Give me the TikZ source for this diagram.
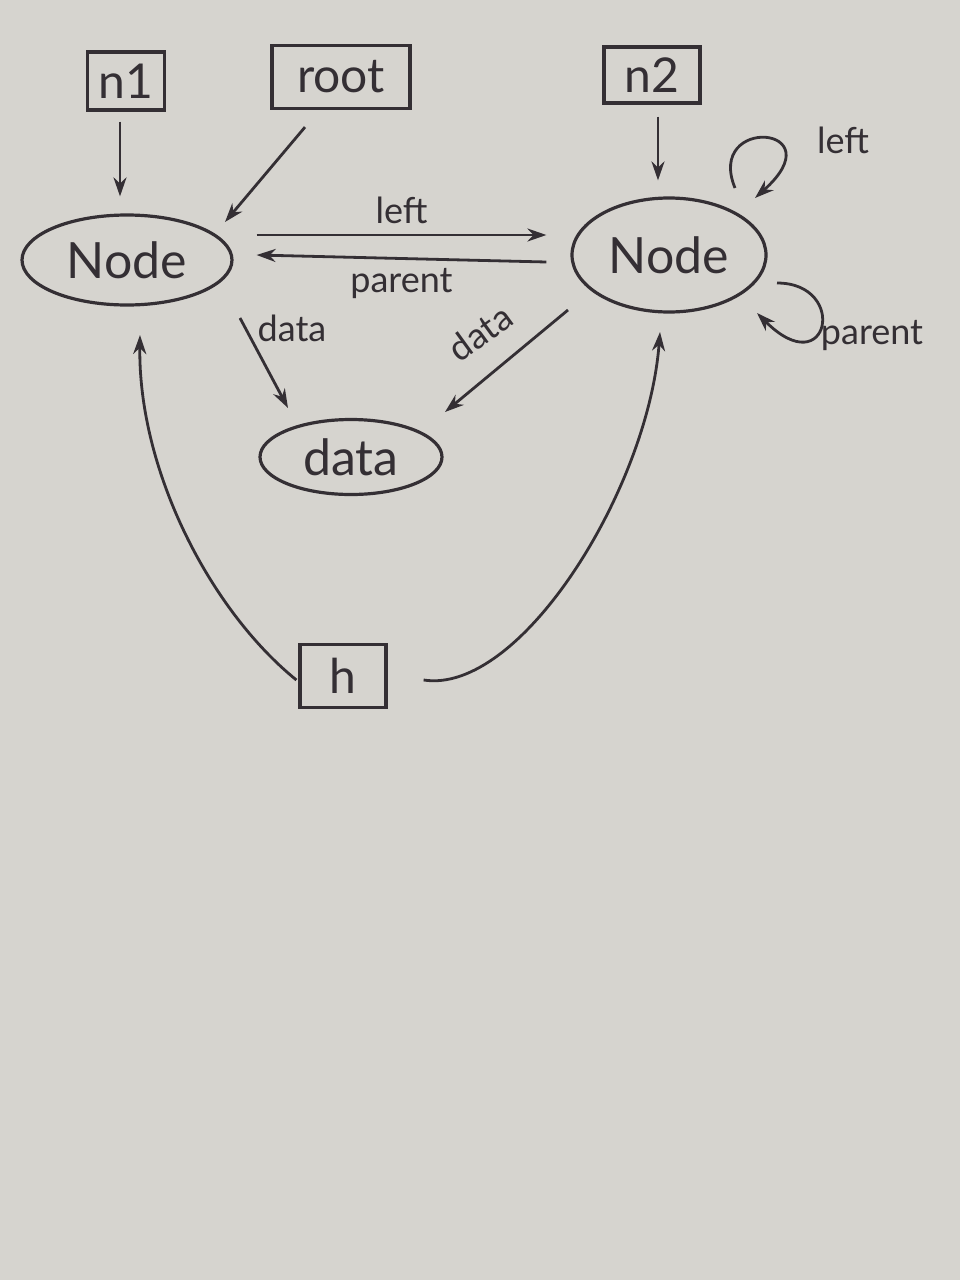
\documentclass[tikz,border=0pt]{standalone}
\usepackage{fontspec}
\setmainfont{Lato}
\usetikzlibrary{arrows.meta,calc,shapes.geometric}
\definecolor{paper}{RGB}{214,212,207}
\definecolor{ink}{RGB}{52,47,52}
\tikzset{
  every node/.style={text=ink},
  boxnode/.style={draw=ink,line width=3.2pt,rectangle,inner sep=0pt,font=\fontsize{48}{52}\selectfont},
  ellnode/.style={draw=ink,line width=3.2pt,ellipse,inner sep=0pt,font=\fontsize{50}{54}\selectfont},
  conn/.style={draw=ink,line width=2.8pt,-{Stealth[length=19pt,width=13pt]}},
  lbl/.style={font=\fontsize{36}{40}\selectfont,inner sep=0pt}
}
\begin{document}
\begin{tikzpicture}[x=1pt,y=-1pt]
\fill[paper] (0,0) rectangle (960,1280);
\useasboundingbox (0,0) rectangle (960,1280);

\node[boxnode,minimum width=77pt,minimum height=58pt] (n1) at (126,81) {n1};
\node[boxnode,minimum width=138pt,minimum height=63pt] (root) at (341,77) {root};
\node[boxnode,minimum width=96pt,minimum height=56pt] (n2) at (652,75) {n2};
\node[ellnode,minimum width=210pt,minimum height=90pt] (L) at (127,260) {Node};
\node[ellnode,minimum width=194pt,minimum height=114pt] (R) at (669,255) {Node};
\node[ellnode,minimum width=182pt,minimum height=75pt] (D) at (351,457) {data};
\node[boxnode,minimum width=86pt,minimum height=63pt] (h) at (343,676) {h};

% pointers
\draw[conn] ($(n1.south)+(-6,10)$) -- ($(L.north)+(-7,-17)$);
\draw[conn] ($(root.south)+(-36,17)$) -- ($(L.center)+(98,-38)$);
\draw[conn] ($(n2.south)+(6,12)$) -- ($(R.north)+(-11,-16)$);

% left / parent
\draw[conn] ($(L.east)+(23,-25)$) -- node[lbl,above=10pt] {left} ($(R.west)+(-24,-20)$);
\draw[conn] ($(R.west)+(-24,7)$) -- node[lbl,below=8pt] {parent} ($(L.east)+(23,-5)$);

% data
\draw[conn] ($(L.center)+(113,58)$) -- ($(D.center)+(-63,-49)$);
\node[lbl] (dl1) at (292,328) {data};
\draw[conn] ($(R.center)+(-101,55)$) -- ($(D.center)+(94,-45)$);
\node[lbl,rotate=36] (dl2) at (480,333) {data};

% self loops
\draw[conn] ($(R.center)+(66,-67)$) .. controls ($(R.center)+(36,-140)$) and ($(R.center)+(168,-130)$) .. ($(R.center)+(86,-57)$);
\node[lbl] (ll) at (843,140) {left};
\draw[conn] ($(R.center)+(108,28)$) .. controls ($(R.center)+(180,28)$) and ($(R.center)+(160,130)$) .. ($(R.center)+(88,58)$);
\node[lbl] (pl) at (872,336) {parent};

% h
\draw[conn] ($(h.west)+(-2,4)$) .. controls (210,610) and (138,470) .. ($(L.center)+(13,75)$);
\draw[conn] ($(h.east)+(36,4)$) .. controls (520,695) and (648,490) .. ($(R.center)+(-9,77)$);
\end{tikzpicture}
\end{document}
